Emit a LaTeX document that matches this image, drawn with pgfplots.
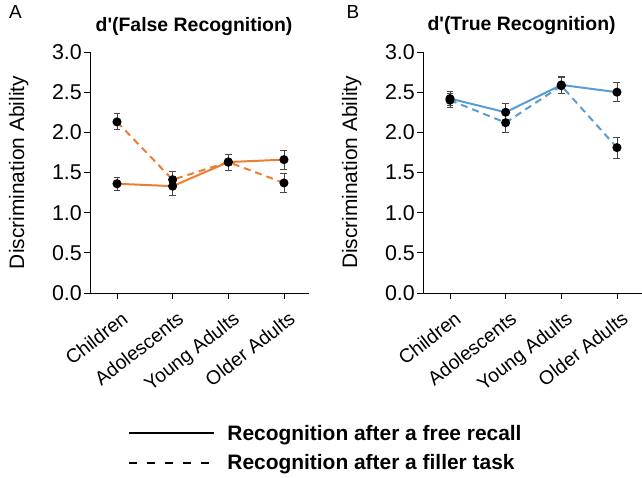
\documentclass[border=0pt]{standalone}
\usepackage{pgfplots}
\pgfplotsset{compat=1.18}
\usepackage{fontspec}
\setmainfont{Liberation Sans}
\definecolor{xlorange}{RGB}{237,125,49}
\definecolor{xlblue}{RGB}{91,155,213}
\definecolor{errgray}{RGB}{70,70,70}
\pgfplotsset{
  panel/.style={
    scale only axis, width=219bp, height=241bp,
    xmin=-0.485, xmax=3.45, ymin=0, ymax=3.0,
    axis x line*=bottom, axis y line*=left,
    axis line style={line width=1pt, black, -},
    xtick={0,1,2,3},
    xticklabels={Children,Adolescents,Young Adults,Older Adults},
    xticklabel style={rotate=38, anchor=north east, font=\fontsize{19.5}{22}\selectfont, inner sep=1pt, yshift=-10pt, xshift=-3pt},
    ytick={0,0.5,...,3.0},
    yticklabel style={font=\fontsize{21.5}{24}\selectfont, /pgf/number format/fixed, /pgf/number format/fixed zerofill, /pgf/number format/precision=1, inner sep=2pt},
    /pgf/number format/assume math mode=true,
    tick style={black, line width=0.8pt},
    major tick length=6pt,
    tick align=outside,
    ylabel={Discrimination Ability},
    ylabel style={font=\fontsize{21}{24}\selectfont, at={(axis description cs:-0.265,0.5)}, anchor=south},
    error bars/error bar style={errgray, line width=0.9pt, solid},
    error bars/error mark options={errgray, line width=0.9pt, rotate=90, mark size=3.5pt, solid},
    clip=false,
  },
  ser/.style={line width=2pt, mark=*, mark size=3.5pt, mark options={black, fill=black, solid},
    error bars/.cd, y dir=both, y explicit},
}
\begin{document}
\begin{tikzpicture}
\useasboundingbox (-90bp,-185bp) rectangle (552bp,293bp);
\begin{axis}[panel, at={(0,0)}, anchor=south west,
  legend style={at={(axis description cs:0.16,-0.53)}, anchor=north west, draw=none, fill=none,
    font=\bfseries\fontsize{21}{24}\selectfont, row sep=9bp, /tikz/column sep=10bp, cells={anchor=west}},
  legend cell align=left,
  legend image code/.code={\draw[#1] (0bp,0bp) -- (85bp,0bp);},
]
\addlegendimage{black, line width=2.2pt}
\addlegendentry{Recognition after a free recall}
\addlegendimage{black, line width=2.2pt, dash pattern=on 8bp off 10bp}
\addlegendentry{Recognition after a filler task}
\addplot[xlorange, ser] coordinates {
  (0,1.36) +- (0,0.08)
  (1,1.33) +- (0,0.12)
  (2,1.63) +- (0,0.10)
  (3,1.66) +- (0,0.12)
};
\addplot[xlorange, dash pattern=on 7pt off 5pt, ser] coordinates {
  (0,2.13) +- (0,0.10)
  (1,1.41) +- (0,0.10)
  (2,1.63) +- (0,0.10)
  (3,1.37) +- (0,0.12)
};
\node[font=\bfseries\fontsize{19.5}{22}\selectfont] at (axis description cs:0.475,1.104) {d\textquotesingle(False Recognition)};
\node[font=\fontsize{19}{22}\selectfont] at (axis description cs:-0.34,1.165) {A};
\end{axis}
\begin{axis}[panel, at={(333bp,0)}, anchor=south west]
\addplot[xlblue, ser] coordinates {
  (0,2.42) +- (0,0.09)
  (1,2.25) +- (0,0.11)
  (2,2.59) +- (0,0.10)
  (3,2.50) +- (0,0.12)
};
\addplot[xlblue, dash pattern=on 7pt off 5pt, ser] coordinates {
  (0,2.40) +- (0,0.09)
  (1,2.12) +- (0,0.12)
  (2,2.58) +- (0,0.10)
  (3,1.81) +- (0,0.13)
};
\node[font=\bfseries\fontsize{19.5}{22}\selectfont] at (axis description cs:0.45,1.11) {d\textquotesingle(True Recognition)};
\node[font=\fontsize{19}{22}\selectfont] at (axis description cs:-0.32,1.165) {B};
\end{axis}
\end{tikzpicture}
\end{document}
